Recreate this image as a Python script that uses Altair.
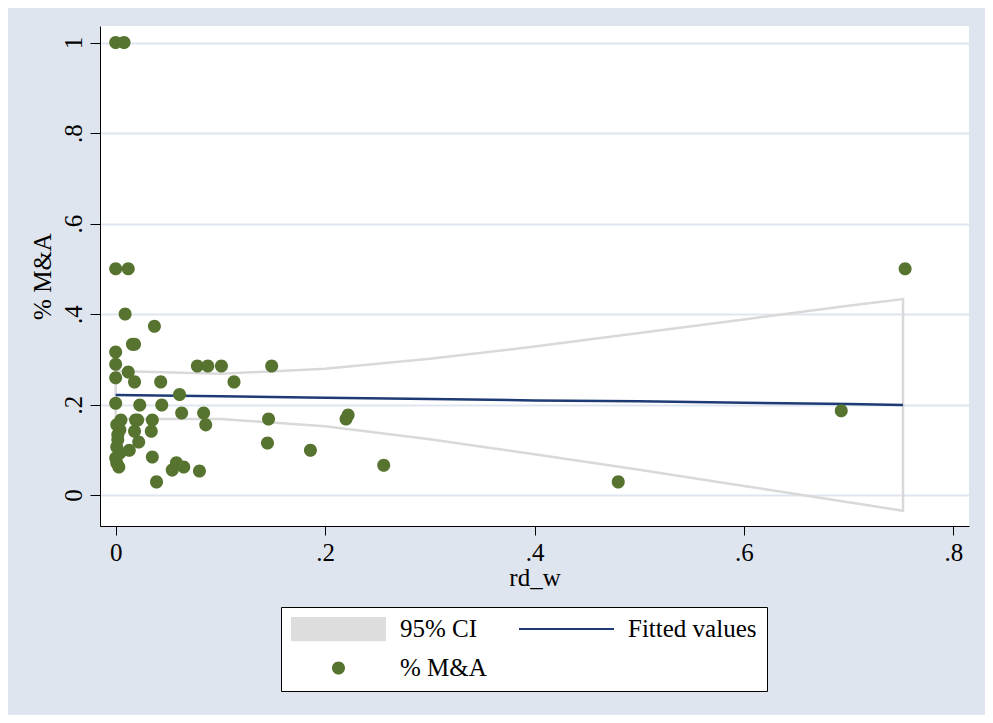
import json
import altair as alt
import pandas as pd

# ---- scatter data (% M&A vs rd_w) ----
rd_w = [0.000, 0.008, 0.000, 0.012, 0.009, 0.037, 0.016, 0.018, 0.000, 0.000,
        0.012, 0.000, 0.018, 0.043, 0.078, 0.088, 0.101, 0.149, 0.113, 0.061,
        0.000, 0.023, 0.044, 0.063, 0.084, 0.086, 0.146, 0.220, 0.222, 0.145,
        0.186, 0.256, 0.480, 0.693, 0.754, 0.005, 0.019, 0.021, 0.035, 0.004,
        0.018, 0.034, 0.002, 0.022, 0.013, 0.004, 0.001, 0.003, 0.035, 0.058,
        0.054, 0.065, 0.080, 0.039, 0.001, 0.002, 0.001, 0.000]
pct_ma = [1.000, 1.000, 0.500, 0.500, 0.400, 0.373, 0.333, 0.333, 0.316, 0.289,
          0.272, 0.259, 0.250, 0.250, 0.285, 0.285, 0.285, 0.285, 0.250, 0.222,
          0.203, 0.199, 0.199, 0.181, 0.181, 0.155, 0.168, 0.168, 0.177, 0.115,
          0.099, 0.066, 0.029, 0.186, 0.500, 0.166, 0.166, 0.166, 0.166, 0.144,
          0.141, 0.141, 0.122, 0.117, 0.099, 0.093, 0.071, 0.062, 0.084, 0.071,
          0.055, 0.062, 0.053, 0.029, 0.106, 0.133, 0.155, 0.082]

# ---- fitted values and 95% CI ----
fit_x = [0.0, 0.1, 0.2, 0.3, 0.4, 0.5, 0.6, 0.7, 0.752]
fit_y = [0.221, 0.218, 0.215, 0.212, 0.209, 0.207, 0.204, 0.201, 0.199]
ci_upper = [0.274, 0.268, 0.279, 0.301, 0.328, 0.358, 0.388, 0.418, 0.433]
ci_lower = [0.168, 0.168, 0.152, 0.123, 0.090, 0.056, 0.020, -0.016, -0.035]

# ---- axes / legend text ----
x_ticks = [0, 0.2, 0.4, 0.6, 0.8]
x_tick_labels = ["0", ".2", ".4", ".6", ".8"]
y_ticks = [0, 0.2, 0.4, 0.6, 0.8, 1]
y_tick_labels = ["0", ".2", ".4", ".6", ".8", "1"]
x_title = "rd_w"
y_title = "% M&A"
legend_labels = ["95% CI", "Fitted values", "% M&A"]

FONT = "Liberation Serif"
BG = "#dfe5ef"
GREEN = "#56742f"
NAVY = "#1f3b75"
CI_GRAY = "#d9d9d9"
BOX_GRAY = "#dddddd"

SYM = 9025  # symbol area -> 95 px wide legend keys
shape_paths = [
    "M-1,-0.26H1V0.26H-1Z",
    "M-1,-0.022H1V0.022H-1Z",
    "M-0.137,0A0.137,0.137 0 1,0 0.137,0A0.137,0.137 0 1,0 -0.137,0Z",
]

scatter_df = pd.DataFrame({"rd_w": rd_w, "ma": pct_ma, "series": "% M&A"})
fit_df = pd.DataFrame({"rd_w": fit_x, "fit": fit_y})
poly_x = fit_x + fit_x[::-1] + [fit_x[0]]
poly_y = ci_upper + ci_lower[::-1] + [ci_upper[0]]
ci_df = pd.DataFrame({"rd_w": poly_x, "ci": poly_y, "idx": list(range(len(poly_x)))})

xscale = alt.Scale(domain=[-0.015, 0.815], nice=False, zero=False)
yscale = alt.Scale(domain=[-0.0685, 1.0365], nice=False, zero=False)

xaxis = alt.Axis(
    values=x_ticks,
    labelExpr=json.dumps(x_tick_labels) + "[round(datum.value*5)]",
    grid=False, domainColor="black", domainWidth=1,
    tickColor="black", tickSize=9, tickWidth=1,
    labelFont=FONT, labelFontSize=25, labelColor="black", labelPadding=5,
    labelFlush=False,
    titleFont=FONT, titleFontSize=25, titleFontWeight="normal",
    titleColor="black", titlePadding=0,
)
yaxis = alt.Axis(
    values=y_ticks,
    labelExpr=json.dumps(y_tick_labels) + "[round(datum.value*5)]",
    grid=True, gridColor=BG, gridWidth=2,
    domainColor="black", domainWidth=1,
    tickColor="black", tickSize=10, tickWidth=1,
    labelFont=FONT, labelFontSize=25, labelColor="black", labelPadding=4,
    labelAngle=270, labelAlign="center", labelBaseline="bottom",
    labelFlush=False,
    titleFont=FONT, titleFontSize=25, titleFontWeight="normal",
    titleColor="black", titlePadding=6,
)

ci_layer = alt.Chart(ci_df).mark_line(color=CI_GRAY, strokeWidth=2.5).encode(
    x=alt.X("rd_w:Q", scale=xscale, axis=xaxis, title=x_title),
    y=alt.Y("ci:Q", scale=yscale, axis=yaxis, title=y_title),
    order=alt.Order("idx:Q"),
)

fit_layer = alt.Chart(fit_df).mark_line(color=NAVY, strokeWidth=2.5).encode(
    x=alt.X("rd_w:Q", scale=xscale, axis=xaxis, title=x_title),
    y=alt.Y("fit:Q", scale=yscale, axis=yaxis, title=y_title),
)

legend = alt.Legend(
    orient="none", legendX=181, legendY=581, direction="horizontal",
    columns=2, columnPadding=32, rowPadding=14, clipHeight=24,
    padding=10, strokeColor="black", fillColor="white", cornerRadius=0,
    symbolSize=SYM, symbolStrokeWidth=0, symbolOpacity=1,
    labelFont=FONT, labelFontSize=25, labelColor="black", labelOffset=14,
    gridAlign="each", title=None,
)

pts_layer = alt.Chart(scatter_df).mark_point(
    filled=True, size=SYM, opacity=1, strokeWidth=0
).encode(
    x=alt.X("rd_w:Q", scale=xscale, axis=xaxis, title=x_title),
    y=alt.Y("ma:Q", scale=yscale, axis=yaxis, title=y_title),
    color=alt.Color("series:N",
                    scale=alt.Scale(domain=legend_labels, range=[BOX_GRAY, NAVY, GREEN]),
                    legend=legend),
    shape=alt.Shape("series:N",
                    scale=alt.Scale(domain=legend_labels, range=shape_paths),
                    legend=legend),
)

chart = alt.layer(ci_layer, fit_layer, pts_layer).properties(
    width=869, height=500,
    autosize=alt.AutoSizeParams(type="none"),
    padding={"left": 92, "top": 18, "right": 16, "bottom": 189},
    background=BG,
).configure(
    font=FONT,
    view=alt.ViewConfig(fill="white", strokeWidth=0),
)

chart.save("out.html", embed_options={"renderer": "svg", "actions": False})
